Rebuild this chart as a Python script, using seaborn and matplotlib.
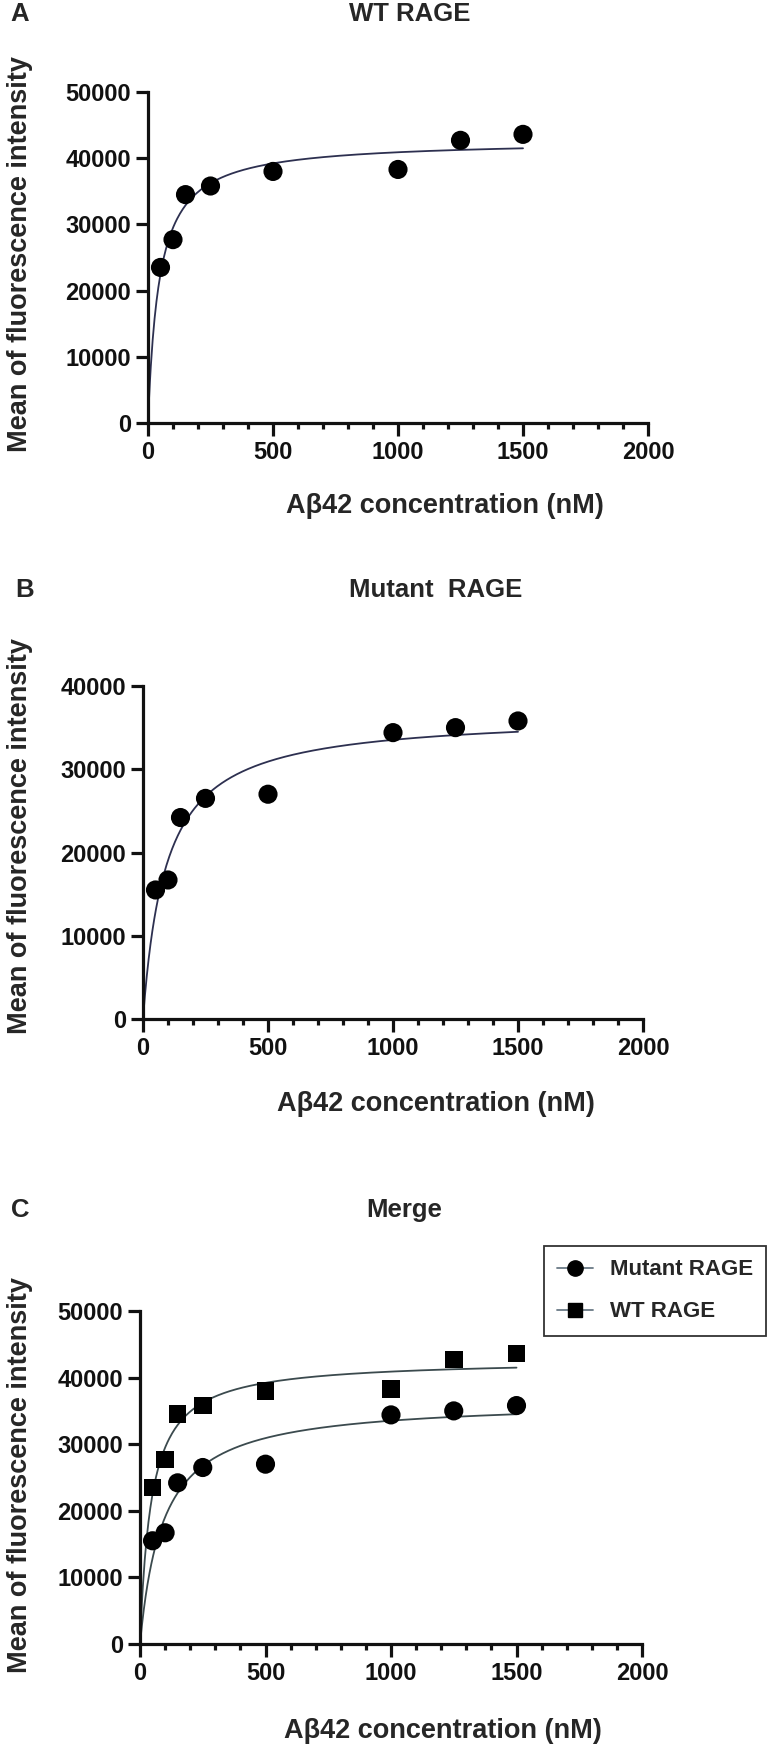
import numpy as np
import pandas as pd
import matplotlib
matplotlib.use("Agg")
import matplotlib.pyplot as plt
from matplotlib.lines import Line2D
import seaborn as sns

# Data
conc = [50, 100, 150, 250, 500, 1000, 1250, 1500]
wt_mfi = [23500, 27700, 34500, 35800, 38000, 38300, 42700, 43600]
mut_mfi = [15500, 16700, 24200, 26500, 27000, 34400, 35000, 35800]

x_ticks = [0, 500, 1000, 1500, 2000]
y_ticks_50k = [0, 10000, 20000, 30000, 40000, 50000]
y_ticks_40k = [0, 10000, 20000, 30000, 40000]

sns.set_style("ticks")
plt.rcParams["font.family"] = ["Liberation Sans", "DejaVu Sans"]
plt.rcParams["font.weight"] = "bold"

W, H = 767, 1747
fig = plt.figure(figsize=(W / 100, H / 100), dpi=100)


def px(x, y):
    return x / W, 1 - y / H


def one_site_fit(x, y):
    # least squares fit of y = Bmax*x/(Kd+x), Bmax solved for each Kd
    x = np.asarray(x, float)
    y = np.asarray(y, float)
    best = None
    for kd in np.linspace(1, 500, 5000):
        f = x / (kd + x)
        bmax = (y * f).sum() / (f * f).sum()
        err = ((y - bmax * f) ** 2).sum()
        if best is None or err < best[0]:
            best = (err, bmax, kd)
    return best[1], best[2]


def fit_curve(x, y):
    bmax, kd = one_site_fit(x, y)
    xs = np.linspace(0, max(x), 400)
    return pd.DataFrame({"conc": xs, "mfi": bmax * xs / (kd + xs)})


def make_axes(left, top, right, bottom):
    l, t = px(left, top)
    r, b = px(right, bottom)
    return fig.add_axes([l, b, r - l, t - b])


def style_axes(ax, yticks):
    ax.set_xlim(0, 2000)
    ax.set_ylim(0, yticks[-1])
    ax.set_xticks(x_ticks)
    ax.set_xticks(np.arange(0, 2001, 100), minor=True)
    ax.set_yticks(yticks)
    sns.despine(ax=ax)
    for s in ["left", "bottom"]:
        ax.spines[s].set_linewidth(2.3)
        ax.spines[s].set_color("#111111")
    ax.tick_params(axis="both", which="major", length=9, width=2.3,
                   labelsize=17, color="#111111", labelcolor="#111111")
    ax.tick_params(axis="x", which="major", pad=4)
    ax.tick_params(axis="y", which="major", pad=3)
    ax.tick_params(axis="x", which="minor", length=4.5, width=2.3, color="#111111")
    ax.tick_params(axis="y", which="minor", length=0)
    for lab in ax.get_xticklabels() + ax.get_yticklabels():
        lab.set_fontweight("bold")
    ax.set_xlabel("")
    ax.set_ylabel("")


def panel_text(letter, lx, ly, title, tx, ty, ylab_x, ylab_y, xlab_x, xlab_y):
    fig.text(*px(lx, ly), letter, fontsize=18.5, fontweight="bold", ha="center", va="center")
    fig.text(*px(tx, ty), title, fontsize=18.5, fontweight="bold", ha="center", va="center")
    fig.text(*px(ylab_x, ylab_y), "Mean of fluorescence intensity", fontsize=19.5,
             fontweight="bold", rotation=90, ha="center", va="center")
    fig.text(*px(xlab_x, xlab_y), "Aβ42 concentration (nM)", fontsize=19.5,
             fontweight="bold", ha="center", va="center")


curve_col = "#2d3050"

# Panel A: WT RAGE
axA = make_axes(148, 92, 648, 423)
wt_df = pd.DataFrame({"conc": conc, "mfi": wt_mfi})
mut_df = pd.DataFrame({"conc": conc, "mfi": mut_mfi})
wt_fit = fit_curve(conc, wt_mfi)
mut_fit = fit_curve(conc, mut_mfi)

sns.lineplot(data=wt_fit, x="conc", y="mfi", ax=axA, color=curve_col, linewidth=1.3)
sns.scatterplot(data=wt_df, x="conc", y="mfi", ax=axA, color="black", s=190,
                edgecolor="none", zorder=3, clip_on=False)
style_axes(axA, y_ticks_50k)
panel_text("A", 20, 14, "WT RAGE", 410, 14, 20, 254, 445, 506)

# Panel B: Mutant RAGE
axB = make_axes(143, 686, 643, 1019)
sns.lineplot(data=mut_fit, x="conc", y="mfi", ax=axB, color=curve_col, linewidth=1.3)
sns.scatterplot(data=mut_df, x="conc", y="mfi", ax=axB, color="black", s=190,
                edgecolor="none", zorder=3, clip_on=False)
style_axes(axB, y_ticks_40k)
panel_text("B", 25, 590, "Mutant  RAGE", 436, 590, 20, 836, 436, 1104)

# Panel C: Merge
axC = make_axes(140, 1311, 642, 1644)
merge_col = "#3b4a4e"
sns.lineplot(data=wt_fit, x="conc", y="mfi", ax=axC, color=merge_col, linewidth=1.3)
sns.lineplot(data=mut_fit, x="conc", y="mfi", ax=axC, color=merge_col, linewidth=1.3)
sns.scatterplot(data=mut_df, x="conc", y="mfi", ax=axC, color="black", s=190,
                marker="o", edgecolor="none", zorder=3, clip_on=False)
sns.scatterplot(data=wt_df, x="conc", y="mfi", ax=axC, color="black", s=160,
                marker="s", edgecolor="none", zorder=3, clip_on=False)
style_axes(axC, y_ticks_50k)
panel_text("C", 20, 1210, "Merge", 404, 1210, 20, 1475, 443, 1731)

handles = [
    Line2D([], [], color="#6a7a86", linewidth=1.3, marker="o", markersize=11,
           markerfacecolor="black", markeredgecolor="black"),
    Line2D([], [], color="#6a7a86", linewidth=1.3, marker="s", markersize=10,
           markerfacecolor="black", markeredgecolor="black"),
]
leg = fig.legend(handles, ["Mutant RAGE", "WT RAGE"], loc="upper left",
                 bbox_to_anchor=px(544, 1246), frameon=True, fancybox=False,
                 prop={"size": 16, "weight": "bold"}, handlelength=1.6,
                 borderpad=0.6, labelspacing=0.95, handletextpad=0.75,
                 borderaxespad=0)
leg.get_frame().set_edgecolor("black")
leg.get_frame().set_linewidth(1.3)

fig.savefig("out.png", dpi=100)
plt.close(fig)
